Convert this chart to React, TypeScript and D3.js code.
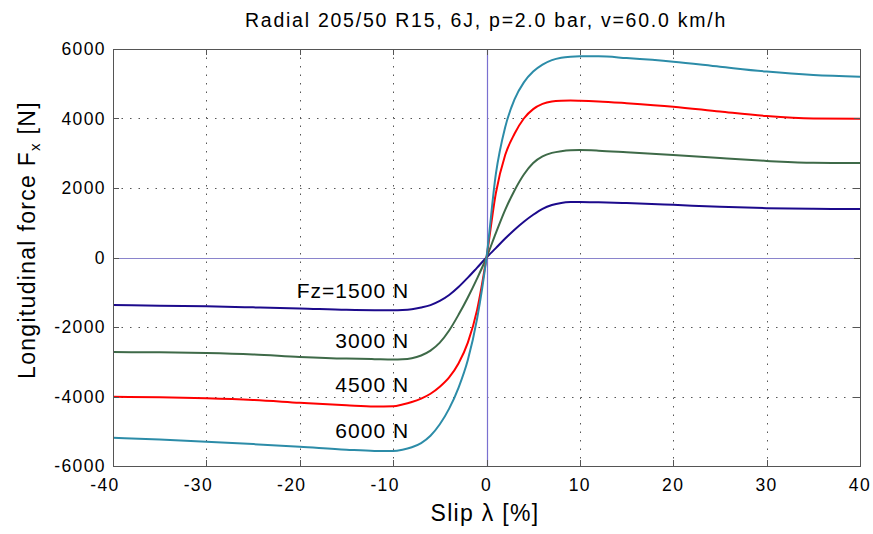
import { useRef, useEffect } from "react";
import * as d3 from "d3";

// slip values [%]
const slip = [
  -40, -35, -30, -25, -20, -15, -12, -10, -9, -8, -7, -6, -5, -4, -3, -2, -1, 0,
  1, 2, 3, 4, 5, 6, 7, 8, 9, 10, 12, 15, 20, 25, 30, 35, 40,
];

// longitudinal force [N] per vertical load
const fz1500 = [
  -1370, -1385, -1405, -1435, -1465, -1505, -1515, -1515, -1510, -1490, -1440,
  -1370, -1250, -1080, -850, -580, -290, 0, 270, 545, 800, 1030, 1230, 1400,
  1510, 1570, 1595, 1600, 1590, 1565, 1515, 1460, 1420, 1400, 1395,
];
const fz3000 = [
  -2720, -2730, -2750, -2790, -2860, -2910, -2925, -2935, -2930, -2900, -2820,
  -2680, -2450, -2100, -1650, -1150, -600, 0, 700, 1370, 1930, 2390, 2720, 2910,
  3010, 3060, 3085, 3090, 3075, 3030, 2950, 2860, 2780, 2725, 2720,
];
const fz4500 = [
  -4010, -4020, -4050, -4100, -4180, -4255, -4290, -4280, -4230, -4160, -4060,
  -3920, -3718, -3450, -3050, -2450, -1500, 0, 1850, 2950, 3560, 4000, 4270,
  4420, 4490, 4510, 4515, 4510, 4490, 4440, 4340, 4200, 4070, 4000, 3990,
];
const fz6000 = [
  -5186, -5240, -5300, -5370, -5445, -5530, -5565, -5565, -5530, -5460, -5340,
  -5130, -4800, -4350, -3750, -2950, -1750, 0, 2400, 3750, 4550, 5040, 5350,
  5550, 5680, 5750, 5780, 5790, 5790, 5740, 5635, 5490, 5350, 5250, 5200,
];

const loadLabels = ["Fz=1500 N", "3000 N", "4500 N", "6000 N"];
const labelSlip = -8.4;
const labelForce = [-1174, -2613, -3862, -5203];

const xTicks = [-40, -30, -20, -10, 0, 10, 20, 30, 40];
const yTicks = [-6000, -4000, -2000, 0, 2000, 4000, 6000];

const FONT = "'Liberation Sans', Arial, Helvetica, sans-serif";

export default function App() {
  const svgRef = useRef<SVGSVGElement>(null);

  useEffect(() => {
    const svg = d3.select(svgRef.current);
    svg.selectAll("*").remove();

    const left = 113, right = 860, top = 49, bottom = 466;
    const x = d3.scaleLinear().domain([-40, 40]).range([left, right]);
    const y = d3.scaleLinear().domain([-6000, 6000]).range([bottom, top]);

    svg.append("rect").attr("width", 873).attr("height", 534).attr("fill", "#fff");

    // dotted grid
    const grid = svg.append("g").attr("stroke", "#555").attr("stroke-width", 1)
      .attr("stroke-dasharray", "1.5,7");
    grid.selectAll("line.gx")
      .data(xTicks.filter((d) => d !== 0 && d !== -40 && d !== 40))
      .join("line")
      .attr("x1", (d) => Math.round(x(d)) + 0.5)
      .attr("x2", (d) => Math.round(x(d)) + 0.5)
      .attr("y1", top)
      .attr("y2", bottom);
    grid.selectAll("line.gy")
      .data(yTicks.filter((d) => d !== 0 && Math.abs(d) !== 6000))
      .join("line")
      .attr("x1", left)
      .attr("x2", right)
      .attr("y1", (d) => Math.round(y(d)) + 0.5)
      .attr("y2", (d) => Math.round(y(d)) + 0.5);

    // zero lines
    svg.append("line")
      .attr("x1", left).attr("x2", right)
      .attr("y1", Math.round(y(0)) + 0.5).attr("y2", Math.round(y(0)) + 0.5)
      .attr("stroke", "#8a84cc").attr("stroke-width", 1.2);
    svg.append("line")
      .attr("x1", Math.round(x(0)) + 0.5).attr("x2", Math.round(x(0)) + 0.5)
      .attr("y1", top).attr("y2", bottom)
      .attr("stroke", "#7a70d0").attr("stroke-width", 1.2);

    // curves
    const series = [
      { values: fz1500, color: "#1c0a8c" },
      { values: fz3000, color: "#3e6a48" },
      { values: fz4500, color: "#ff0000" },
      { values: fz6000, color: "#2c8ca8" },
    ];
    const line = d3.line<number>()
      .x((_, i) => x(slip[i]))
      .y((d) => y(d))
      .curve(d3.curveMonotoneX);
    svg.append("g")
      .selectAll("path")
      .data(series)
      .join("path")
      .attr("fill", "none")
      .attr("stroke", (d) => d.color)
      .attr("stroke-width", 2)
      .attr("stroke-linejoin", "round")
      .attr("d", (d) => line(d.values));

    // frame + inward ticks
    const frame = svg.append("g").attr("stroke", "#555").attr("stroke-width", 1);
    frame.append("rect")
      .attr("x", left + 0.5).attr("y", top + 0.5)
      .attr("width", right - left).attr("height", bottom - top)
      .attr("fill", "none");
    const tl = 6;
    frame.selectAll("line.tx")
      .data(xTicks)
      .join("line")
      .attr("x1", (d) => Math.round(x(d)) + 0.5)
      .attr("x2", (d) => Math.round(x(d)) + 0.5)
      .attr("y1", top).attr("y2", top + tl);
    frame.selectAll("line.bx")
      .data(xTicks)
      .join("line")
      .attr("class", "bx")
      .attr("x1", (d) => Math.round(x(d)) + 0.5)
      .attr("x2", (d) => Math.round(x(d)) + 0.5)
      .attr("y1", bottom - tl).attr("y2", bottom);
    frame.selectAll("line.ly")
      .data(yTicks)
      .join("line")
      .attr("class", "ly")
      .attr("x1", left).attr("x2", left + tl)
      .attr("y1", (d) => Math.round(y(d)) + 0.5)
      .attr("y2", (d) => Math.round(y(d)) + 0.5);
    frame.selectAll("line.ry")
      .data(yTicks)
      .join("line")
      .attr("class", "ry")
      .attr("x1", right - tl).attr("x2", right)
      .attr("y1", (d) => Math.round(y(d)) + 0.5)
      .attr("y2", (d) => Math.round(y(d)) + 0.5);

    const text = svg.append("g").attr("font-family", FONT).attr("fill", "#000");

    // tick labels
    text.selectAll("text.xt")
      .data(xTicks)
      .join("text")
      .attr("class", "xt")
      .attr("x", (d) => x(d) + (d < 0 ? -8 : 0))
      .attr("y", 491)
      .attr("text-anchor", "middle")
      .attr("font-size", 17.5)
      .attr("letter-spacing", 1.4)
      .text((d) => String(d));
    text.selectAll("text.yt")
      .data(yTicks)
      .join("text")
      .attr("class", "yt")
      .attr("x", 106)
      .attr("y", (d) => y(d) + 6.3)
      .attr("text-anchor", "end")
      .attr("font-size", 17.5)
      .attr("letter-spacing", 1.4)
      .text((d) => String(d));

    // load annotations
    text.selectAll("text.ann")
      .data(loadLabels)
      .join("text")
      .attr("class", "ann")
      .attr("x", x(labelSlip) + 1)
      .attr("y", (_, i) => y(labelForce[i]))
      .attr("text-anchor", "end")
      .attr("font-size", 21)
      .attr("letter-spacing", 1)
      .text((d) => d);

    // title
    text.append("text")
      .attr("x", 486).attr("y", 27)
      .attr("text-anchor", "middle")
      .attr("font-size", 19.5)
      .attr("letter-spacing", 1.75)
      .text("Radial 205/50 R15, 6J, p=2.0 bar, v=60.0 km/h");

    // x label
    text.append("text")
      .attr("x", 485).attr("y", 521)
      .attr("text-anchor", "middle")
      .attr("font-size", 23)
      .attr("letter-spacing", 1.3)
      .text("Slip λ [%]");

    // y label
    const yl = text.append("text")
      .attr("transform", "translate(35,240) rotate(-90)")
      .attr("text-anchor", "middle")
      .attr("font-size", 23)
      .attr("letter-spacing", 1.3);
    yl.append("tspan").text("Longitudinal force F");
    yl.append("tspan").attr("font-size", 15).attr("dy", 5).text("x");
    yl.append("tspan").attr("dy", -5).text(" [N]");
  }, []);

  return (
    <svg
      ref={svgRef}
      width={873}
      height={534}
      style={{ position: "absolute", left: 0, top: 0 }}
    />
  );
}
